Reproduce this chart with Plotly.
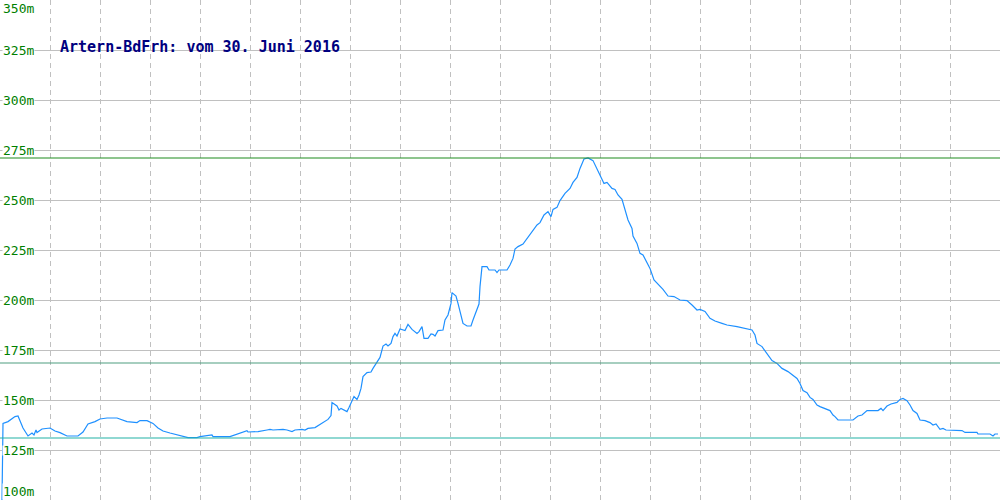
import plotly.graph_objects as go

# ---- data ----
dist = [2, 3, 8, 12, 15, 18, 20, 23, 28, 32, 34, 36, 37, 42, 50, 55, 60, 67, 78, 83, 88, 95, 100,
        107, 117, 127, 137, 140, 147, 153, 158, 163, 170, 177, 183, 188, 197, 200, 212, 213, 230,
        240, 247, 248, 258, 267, 270, 273, 283, 287, 292, 295, 302,
        305, 308, 315, 320, 325, 328, 331, 332, 337, 339, 341, 345, 347, 349, 352, 354, 357, 359,
        361, 363, 367, 371, 373, 377, 380, 383, 386, 388, 391, 393, 395, 397, 400, 405, 408, 412,
        417, 419, 422, 424, 428, 431, 433, 435, 438, 443, 445, 448, 451, 452, 456, 458, 461, 463,
        467, 471, 473, 476, 479, 480,
        482, 487, 489, 495, 497, 499, 507, 510, 513, 515, 518, 523, 527, 532, 537, 540, 544, 548,
        551, 553, 557, 560, 565, 570, 573, 577, 580, 584, 588, 593, 597, 600,
        604, 607, 612, 615, 618, 622, 625, 628, 632, 633, 637, 640, 643, 647, 650, 654, 658, 663,
        668, 674, 680, 687, 692, 697, 700, 705, 710, 715, 722, 727, 737, 747, 752, 755, 757, 762,
        767, 772, 777, 782, 788, 792, 797, 800,
        803, 807, 810, 813, 817, 820, 825, 830, 833, 835, 838, 853, 858, 862, 867, 878, 881, 883,
        887, 891, 897, 900, 903, 907, 910, 913, 917, 920, 925, 930, 933, 936, 940, 943, 946, 962,
        965, 977, 978, 990, 993, 995, 998]

elev = [100.0, 138.3, 139.2, 140.5, 141.7, 142.0, 139.2, 136.0, 132.0, 133.5, 132.5, 135.0, 133.7,
        135.5, 136.0, 134.5, 133.7, 132.0, 132.0, 134.0, 138.0, 139.2, 140.5,
        141.0, 141.0, 139.2, 138.7, 139.7, 139.7, 138.3, 136.0, 134.5, 133.5, 132.5, 131.7, 131.2,
        131.2, 131.7, 132.5, 131.7, 131.7,
        133.7, 134.7, 134.0, 134.2, 135.0, 135.3, 135.0, 135.3, 135.0, 134.2, 135.0, 135.3,
        135.0, 135.8, 136.2, 137.8, 139.5, 140.3, 142.2, 148.7, 147.0, 145.0, 145.8, 145.0, 144.2,
        146.2, 149.2, 151.7, 150.3, 152.5,
        155.8, 161.7, 163.7, 164.0, 165.8, 169.2, 171.3, 177.0, 178.0, 177.0, 178.3, 181.7, 183.3,
        182.0, 185.5, 184.7, 187.8, 185.3,
        183.3, 184.2, 186.7, 180.8, 180.8, 183.0, 182.8, 182.0, 184.7, 185.0, 190.0, 192.5, 198.3,
        203.7, 202.0, 198.3, 191.7, 188.3,
        187.0, 187.0, 190.0, 194.2, 198.0, 206.7,
        216.7, 216.7, 215.0, 215.0, 213.7, 215.0, 215.0, 217.5, 220.8, 225.5, 226.7, 228.0, 230.8,
        234.2, 237.5, 238.7, 242.5, 244.2,
        241.7, 245.3, 246.3, 249.7, 253.3, 255.8, 258.8, 261.3, 265.8, 270.5, 271.0, 269.7, 265.8,
        262.5,
        258.3, 258.8, 255.8, 255.3, 252.5, 250.3, 245.0, 240.0, 235.8, 232.0, 228.3, 223.3, 222.5,
        218.3, 215.8, 210.0, 208.0, 205.3,
        202.0, 201.7, 200.0, 199.7, 197.5, 195.0, 195.3, 194.3, 190.8, 189.5, 188.3, 187.5, 186.7,
        185.8, 185.0, 182.5, 178.3, 176.7,
        173.0, 169.7, 168.3, 165.8, 164.2, 162.5, 160.8, 158.3,
        154.7, 153.7, 151.3, 150.3, 147.5, 146.7, 145.8, 144.7, 142.5, 141.7, 140.0, 140.0, 142.0,
        142.5, 144.7, 144.7, 145.8, 144.7,
        147.0, 148.0, 148.8, 150.3, 150.8, 149.7, 147.5, 144.7, 143.3, 140.0, 139.7, 138.7, 137.5,
        138.0, 135.3, 135.8, 135.0, 134.7,
        133.8, 133.8, 133.0, 133.0, 132.0, 133.0, 133.0]

y_ticks = [100, 125, 150, 175, 200, 225, 250, 275, 300, 325, 350]
y_tick_labels = ["100m", "125m", "150m", "175m", "200m", "225m", "250m", "275m", "300m", "325m", "350m"]

max_line = 271.0
mean_line = 168.5
min_line = 131.0

title_text = "Artern-BdFrh: vom 30. Juni 2016"

# ---- figure ----
fig = go.Figure()
fig.add_trace(go.Scatter(x=dist, y=elev, mode="lines",
                         line=dict(color="#1e90ff", width=1.2), hoverinfo="skip"))

for val, col in [(max_line, "#1e8c1e"), (mean_line, "#4e9e80"), (min_line, "#22b2a6")]:
    fig.add_shape(type="line", xref="paper", x0=0, x1=1, yref="y", y0=val, y1=val,
                  line=dict(color=col, width=1.2), layer="above")

mono = "DejaVu Sans Mono"
for v, t in zip(y_ticks, y_tick_labels):
    if v == max(y_ticks):
        ya, h = "top", None
    elif v == min(y_ticks):
        ya, h = "bottom", None
    else:
        ya, h = "middle", 9
    fig.add_annotation(x=0, xref="paper", y=v, yref="y", text=t, showarrow=False,
                       xanchor="left", yanchor=ya, xshift=2, bgcolor="white", borderpad=0,
                       height=h, valign="middle",
                       font=dict(family=mono, size=13, color="#008000"))

fig.add_annotation(x=0.058, xref="paper", y=1 - 47 / 500, yref="paper", text=title_text,
                   showarrow=False, xanchor="left", yanchor="middle",
                   font=dict(family=mono, size=15, color="#000080", weight="bold"))

fig.update_xaxes(range=[0, 1000], tick0=0, dtick=50, showticklabels=False, ticks="",
                 showgrid=True, gridcolor="#c0c0c0", gridwidth=1, griddash="5px,4px",
                 zeroline=False, showline=False)
fig.update_yaxes(range=[100, 350], tickvals=y_ticks, showticklabels=False, ticks="",
                 showgrid=True, gridcolor="#c0c0c0", gridwidth=1,
                 zeroline=False, showline=True, linecolor="#c0c0c0", linewidth=2)

fig.update_layout(width=1000, height=500, margin=dict(l=0, r=0, t=0, b=0),
                  plot_bgcolor="white", paper_bgcolor="white", showlegend=False)

fig.write_html("out.html", config={"displayModeBar": False, "staticPlot": True},
               post_script="document.body.style.margin='0';document.body.style.overflow='hidden';")
